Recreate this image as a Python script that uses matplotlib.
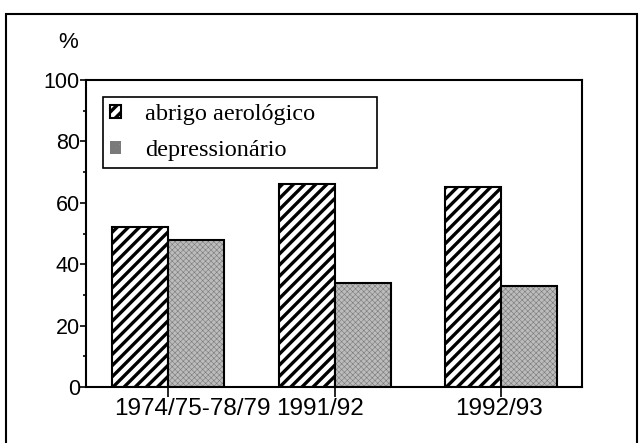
import matplotlib
matplotlib.use('Agg')
import matplotlib.pyplot as plt
import matplotlib.transforms as mtransforms
from matplotlib.patches import Rectangle
from matplotlib.ticker import MultipleLocator

periods = ['1974/75-78/79', '1991/92', '1992/93']
abrigo = [52, 66, 65]
depress = [48, 34, 33]
series_names = ['abrigo aerológico', 'depressionário']

plt.rcParams['font.family'] = ['Liberation Sans', 'DejaVu Sans']
plt.rcParams['hatch.linewidth'] = 2.4

fig = plt.figure(figsize=(6.39, 4.43), dpi=100)
ax = fig.add_axes([0.1346, 0.1264, 0.7765, 0.693])

x = list(range(len(periods)))
w = 0.337
b1 = ax.bar([i - w / 2 for i in x], abrigo, w, facecolor='white', edgecolor='black',
            hatch='///', linewidth=1.5, label=series_names[0])
b2 = ax.bar([i + w / 2 for i in x], depress, w, facecolor='#bcbcbc', edgecolor='#7a7a7a',
            hatch='xxxxxx', linewidth=0, label=series_names[1])
for p in b2:
    if hasattr(p, 'set_hatch_linewidth'):
        p.set_hatch_linewidth(0.4)
ax.bar([i + w / 2 for i in x], depress, w, fill=False, edgecolor='black', linewidth=1.5)

ax.set_xlim(-0.4925, 2.486)
ax.set_ylim(0, 100)
ax.yaxis.set_major_locator(MultipleLocator(20))
ax.yaxis.set_minor_locator(MultipleLocator(10))
ax.tick_params(axis='y', which='major', direction='out', length=4, width=1.2, pad=0.5, labelsize=15.5)
ax.tick_params(axis='y', which='minor', direction='out', length=2, width=1.2)
ax.set_xticks(x)
ax.set_xticklabels(periods)
ax.tick_params(axis='x', direction='out', length=7, width=1.2, pad=1, labelsize=17.5)
offsets = [24, -15, -2]
for lab, dx in zip(ax.get_xticklabels(), offsets):
    lab.set_transform(lab.get_transform() + mtransforms.ScaledTranslation(dx / 100, 0, fig.dpi_scale_trans))
for s in ax.spines.values():
    s.set_linewidth(1.5)

leg = fig.legend(handles=[b1, b2], labels=series_names, loc='upper left',
                 bbox_to_anchor=(0.161, 0.781 - 0.1535, 0.4288, 0.1535),
                 bbox_transform=fig.transFigure, mode='expand', borderaxespad=0,
                 prop={'family': 'Liberation Serif', 'size': 17.5}, fancybox=False,
                 edgecolor='black', framealpha=1, borderpad=0.3, labelspacing=0.6,
                 handlelength=0.45, handleheight=0.45, handletextpad=1.0)
leg.get_frame().set_linewidth(1.2)

fig.text(68 / 639, 1 - 43 / 443, '%', fontsize=16, ha='center', va='center')
fig.patches.append(Rectangle((0.0094, -0.01), 0.9875, 0.978, transform=fig.transFigure,
                             fill=False, edgecolor='black', linewidth=1.5))

fig.savefig('out.png', dpi=100)
